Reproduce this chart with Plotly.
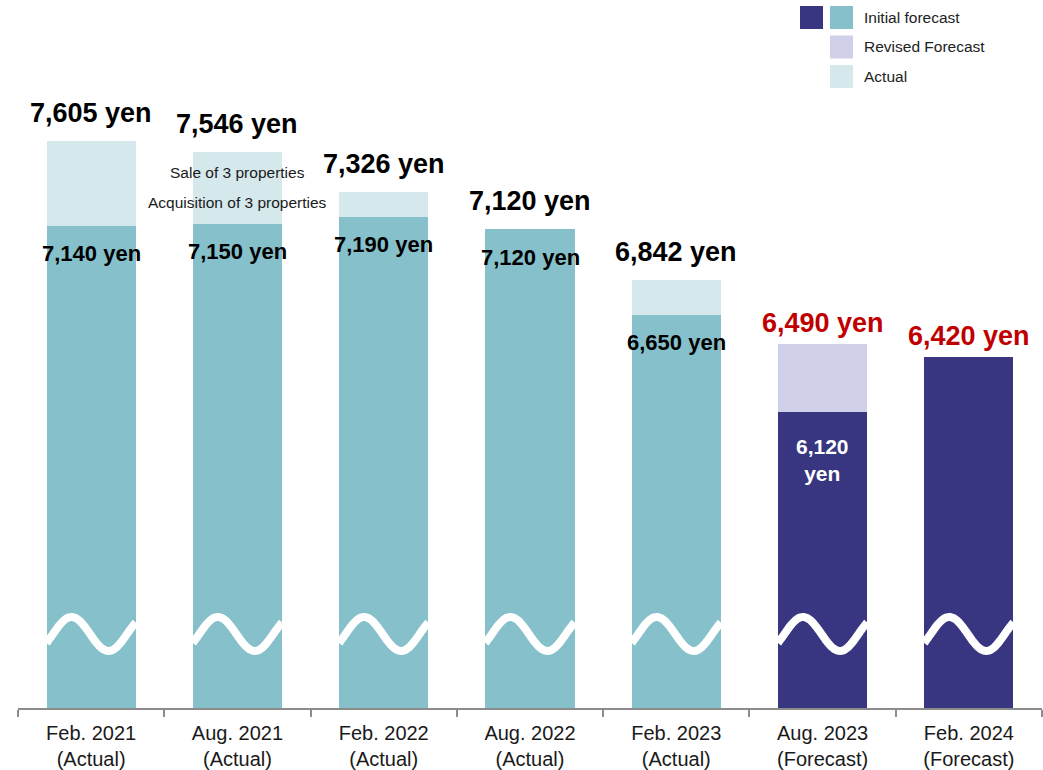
import numpy as np
import plotly.graph_objects as go

# Periods and per-unit distribution values (yen)
periods = ["Feb. 2021<br>(Actual)", "Aug. 2021<br>(Actual)", "Feb. 2022<br>(Actual)",
           "Aug. 2022<br>(Actual)", "Feb. 2023<br>(Actual)", "Aug. 2023<br>(Forecast)",
           "Feb. 2024<br>(Forecast)"]
initial_forecast = [7140, 7150, 7190, 7120, 6650, 6120, 6420]
actual = [7605, 7546, 7326, 7120, 6842, None, None]
revised_forecast = [None, None, None, None, None, 6490, None]
is_forecast = [False, False, False, False, False, True, True]

TEAL = "#85C0CB"
NAVY = "#383680"
LAVENDER = "#D0D0EA"
LIGHT = "#D5E8EC"
RED = "#C00000"
FONT = "Liberation Sans, Arial, sans-serif"

BAR_W = 0.61
Y_MIN, Y_MAX = 4494, 8378
BREAK_LEVEL = 4900   # midline of the axis-break wave
BREAK_AMP = 93       # wave amplitude (yen)
BREAK_PERIOD = 0.506 # wave period (category units)

n = len(periods)
init_colors = [NAVY if f else TEAL for f in is_forecast]
actual_inc = [(a - i) if a is not None else 0 for a, i in zip(actual, initial_forecast)]
revised_inc = [(r - i) if r is not None else 0 for r, i in zip(revised_forecast, initial_forecast)]
totals = [a if a is not None else (r if r is not None else i)
          for a, r, i in zip(actual, revised_forecast, initial_forecast)]

fig = go.Figure()
fig.add_bar(x=periods, y=initial_forecast, marker_color=init_colors, width=BAR_W,
            marker_line_width=0, showlegend=False, hoverinfo="skip")
fig.add_bar(x=periods, y=actual_inc, marker_color=LIGHT, width=BAR_W,
            marker_line_width=0, showlegend=False, hoverinfo="skip")
fig.add_bar(x=periods, y=revised_inc, marker_color=LAVENDER, width=BAR_W,
            marker_line_width=0, showlegend=False, hoverinfo="skip")

# Axis-break waves across each bar
for i in range(n):
    xs = np.linspace(i - BAR_W / 2, i + BAR_W / 2, 80)
    peak = i - BAR_W / 2 + 0.171
    ys = BREAK_LEVEL + BREAK_AMP * np.cos(2 * np.pi * (xs - peak) / BREAK_PERIOD)
    fig.add_scatter(x=xs, y=ys, xaxis="x2", mode="lines",
                    line=dict(color="white", width=8, shape="spline"),
                    showlegend=False, hoverinfo="skip")

# Total labels above bars
for i in range(n):
    color = RED if is_forecast[i] else "#000000"
    fig.add_annotation(x=i, y=totals[i], xref="x2", yref="y",
                       text=f"<b>{totals[i]:,} yen</b>", showarrow=False,
                       yshift=21 if is_forecast[i] else 28,
                       font=dict(family=FONT, size=27, color=color))

# Initial-forecast labels inside bars (not needed where the bar is a single value)
for i in range(n):
    if actual_inc[i] == 0 and revised_inc[i] == 0 and is_forecast[i]:
        continue
    if is_forecast[i]:
        fig.add_annotation(x=i, y=initial_forecast[i], xref="x2", yref="y",
                           text=f"<b>{initial_forecast[i]:,}<br>yen</b>", showarrow=False,
                           yshift=-48, font=dict(family=FONT, size=21, color="white"))
    else:
        fig.add_annotation(x=i, y=initial_forecast[i], xref="x2", yref="y",
                           text=f"<b>{initial_forecast[i]:,} yen</b>", showarrow=False,
                           yshift=-28, font=dict(family=FONT, size=22, color="#000000"))

# Note on the Aug. 2021 period
note_font = dict(family=FONT, size=15.5, color="#1a1a1a")
fig.add_annotation(x=1, y=actual[1], xref="x2", yref="y", text="Sale of 3 properties",
                   showarrow=False, yshift=-21, font=note_font)
fig.add_annotation(x=1, y=actual[1], xref="x2", yref="y", text="Acquisition of 3 properties",
                   showarrow=False, yshift=-51, font=note_font)

# Legend drawn as swatches + labels
PLOT_L, PLOT_W, PLOT_H = 18, 1024, 708
def px(x):
    return (x - PLOT_L) / PLOT_W
def py(y):
    return 1 - y / PLOT_H

legend_rows = [("Initial forecast", [NAVY, TEAL]), ("Revised Forecast", [LAVENDER]),
               ("Actual", [LIGHT])]
for r, (label, cols) in enumerate(legend_rows):
    top = 6 + r * 29.5
    for k, c in enumerate(reversed(cols)):
        left = 830 - k * 30
        fig.add_shape(type="rect", xref="paper", yref="paper",
                      x0=px(left), x1=px(left + 23), y0=py(top + 23), y1=py(top),
                      fillcolor=c, line_width=0)
    fig.add_annotation(xref="paper", yref="paper", x=px(862), y=py(top + 11.5),
                       xanchor="left", yanchor="middle", text=label, showarrow=False,
                       font=dict(family=FONT, size=15.5, color="#222222"))

fig.update_layout(
    width=1043, height=770,
    margin=dict(l=18, r=1, t=0, b=62),
    barmode="stack", bargap=0.39,
    plot_bgcolor="white", paper_bgcolor="white",
    font=dict(family=FONT, color="#1a1a1a"),
    xaxis=dict(type="category", showline=True, linecolor="#8c8c8c", linewidth=2,
               ticks="outside", tickson="boundaries", ticklen=7, tickcolor="#8c8c8c",
               tickwidth=2, ticklabelstandoff=6,
               tickfont=dict(family=FONT, size=20, color="#1a1a1a"),
               showgrid=False, zeroline=False),
    xaxis2=dict(overlaying="x", range=[-0.5, n - 0.5], visible=False),
    yaxis=dict(range=[Y_MIN, Y_MAX], visible=False, showgrid=False, zeroline=False),
)

fig.write_html("out.html")
